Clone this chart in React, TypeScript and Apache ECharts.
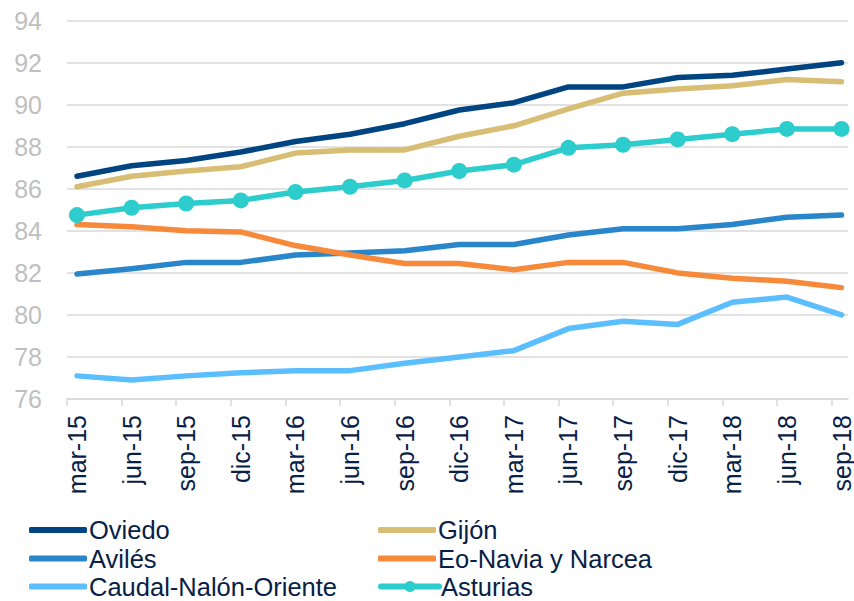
import React, { useEffect, useRef } from "react";
import * as echarts from "echarts";

const categories = [
  "mar-15", "jun-15", "sep-15", "dic-15", "mar-16", "jun-16", "sep-16", "dic-16",
  "mar-17", "jun-17", "sep-17", "dic-17", "mar-18", "jun-18", "sep-18",
];
const oviedo = [86.6, 87.1, 87.35, 87.75, 88.25, 88.6, 89.1, 89.75, 90.1, 90.85, 90.85, 91.3, 91.4, 91.7, 92.0];
const gijon = [86.1, 86.6, 86.85, 87.05, 87.7, 87.85, 87.85, 88.5, 89.0, 89.8, 90.55, 90.75, 90.9, 91.2, 91.1];
const aviles = [81.95, 82.2, 82.5, 82.5, 82.85, 82.95, 83.05, 83.35, 83.35, 83.8, 84.1, 84.1, 84.3, 84.65, 84.75];
const eoNavia = [84.3, 84.2, 84.0, 83.95, 83.3, 82.85, 82.45, 82.45, 82.15, 82.5, 82.5, 82.0, 81.75, 81.6, 81.3];
const caudal = [77.1, 76.9, 77.1, 77.25, 77.35, 77.35, 77.7, 78.0, 78.3, 79.35, 79.7, 79.55, 80.6, 80.85, 80.0];
const asturias = [84.75, 85.1, 85.3, 85.45, 85.85, 86.1, 86.4, 86.85, 87.15, 87.95, 88.1, 88.35, 88.6, 88.85, 88.85];
const yTicks = [76, 78, 80, 82, 84, 86, 88, 90, 92, 94];

// legend order: column by column, row by row
const legendNames = [
  ["Oviedo", "Avilés", "Caudal-Nalón-Oriente"],
  ["Gijón", "Eo-Navia y Narcea", "Asturias"],
];

const FONT = "'Liberation Sans', Arial, sans-serif";
const NAVY = "#072146";

export default function App() {
  const ref = useRef<HTMLDivElement>(null);
  useEffect(() => {
    if (!ref.current) return;
    const chart = echarts.init(ref.current, null, { renderer: "svg" });
    const tickOffset = -0.183;
    const idx = categories.map((_, i) => i);
    const mk = (name: string, vals: number[], color: string, extra: any = {}) => ({
      name,
      type: "line",
      data: vals.map((v, i) => [i, v]),
      symbol: "none",
      lineStyle: { color, width: 5.5, cap: "round", join: "round" },
      itemStyle: { color },
      ...extra,
    });
    const legendText = { fontSize: 25.5, lineHeight: 24, color: NAVY, fontFamily: FONT, padding: [0, 0, 0, -3] };
    const colLeft = [29, 378];
    const rowCenter = [529, 557.5, 585.5];
    const legends: any[] = [];
    legendNames.forEach((col, c) =>
      col.forEach((name, r) => {
        const marker = name === "Asturias";
        legends.push({
          orient: "vertical",
          left: colLeft[c],
          top: rowCenter[r] - 12,
          padding: 0,
          icon: marker ? undefined : "roundRect",
          itemWidth: 58,
          itemHeight: marker ? 14 : 6,
          lineStyle: marker ? { width: 6, cap: "round" } : undefined,
          textStyle: legendText,
          data: [name],
        });
      })
    );
    chart.setOption({
      animation: false,
      textStyle: { fontFamily: FONT },
      grid: { left: 67, right: 5, top: 20.7, bottom: 202, containLabel: false },
      xAxis: {
        type: "value",
        min: tickOffset,
        max: 14.12,
        splitLine: { show: false },
        axisLine: { show: true, lineStyle: { color: "#d9d9d9", width: 1.5 } },
        axisTick: {
          show: true,
          length: 7,
          lineStyle: { color: "#d9d9d9", width: 1.5 },
          customValues: idx.map((i) => i + tickOffset),
        },
        axisLabel: {
          customValues: idx,
          rotate: 90,
          margin: 16,
          fontSize: 25,
          color: NAVY,
          fontFamily: FONT,
          formatter: (v: number) => categories[Math.round(v)] ?? "",
        },
      },
      yAxis: {
        type: "value",
        min: yTicks[0],
        max: yTicks[yTicks.length - 1],
        interval: 2,
        axisLine: { show: false },
        axisTick: { show: false },
        splitLine: { lineStyle: { color: "#d9d9d9", width: 1.5 } },
        axisLabel: { fontSize: 25, color: "#bfbfbf", margin: 25, fontFamily: FONT },
      },
      legend: legends,
      series: [
        mk("Oviedo", oviedo, "#004481"),
        mk("Gijón", gijon, "#D8BE75"),
        mk("Avilés", aviles, "#2A86CA"),
        mk("Eo-Navia y Narcea", eoNavia, "#F7893B"),
        mk("Caudal-Nalón-Oriente", caudal, "#5BBEFF"),
        mk("Asturias", asturias, "#2DCCCD", { symbol: "circle", symbolSize: 16, showSymbol: true }),
      ],
    });
    return () => chart.dispose();
  }, []);
  return (
    <div
      ref={ref}
      style={{ position: "fixed", left: 0, top: 0, width: 854, height: 601, background: "#fff" }}
    />
  );
}
